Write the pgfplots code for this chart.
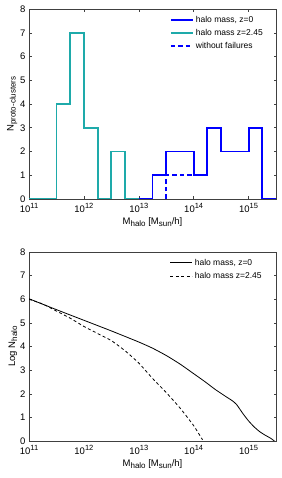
\documentclass[border=0pt]{standalone}
\usepackage{pgfplots}
\pgfplotsset{compat=1.18}
\usepackage{fontspec}
\setmainfont{Liberation Sans}
\definecolor{mblue}{RGB}{0,0,255}
\definecolor{mteal}{RGB}{30,170,170}
\newcommand\sub[1]{\raisebox{-0.4ex}{\fontsize{8}{9}\selectfont #1}}
\newcommand\sups[1]{\raisebox{0.75ex}{\fontsize{7.5}{8}\selectfont #1}}
\tikzset{
  histblue/.style={draw=mblue, line width=1.9pt},
  histteal/.style={draw=mteal, line width=1.9pt},
  histdash/.style={draw=mblue, line width=1.9pt, dash pattern=on 4.5pt off 3pt},
}
\begin{document}
\begin{tikzpicture}
\pgfplotsset{
  every axis/.append style={
    scale only axis, width=247pt, height=189pt,
    xmode=log, xmin=1e11, xmax=3.162e15,
    ymin=0, ymax=8, ytick={0,1,...,8},
    tick align=inside, major tick length=2.5pt,
    minor tick num=0,
    xminorticks=false,
    axis line style={line width=0.6pt, black!75},
    tick style={black!75, line width=0.5pt},
    tick label style={font=\fontsize{9.5}{11}\selectfont},
    label style={font=\fontsize{9.5}{11}\selectfont},
    /pgf/number format/assume math mode=true,
    xtick={1e11,1e12,1e13,1e14,1e15},
    xticklabels={10\sups{11},10\sups{12},10\sups{13},10\sups{14},10\sups{15}},
    xticklabel style={yshift=-1pt},
    legend cell align=left,
    legend style={draw=none, fill=none, font=\fontsize{8.5}{9}\selectfont,
      row sep=1.5pt, inner sep=0pt},
    legend image code/.code={\draw[#1] (0pt,0pt) -- (22pt,0pt);},
  }
}
% Bottom axis
\begin{axis}[name=lower, at={(0,0)}, anchor=south west,
  xlabel={M\sub{halo} [M\sub{sun}/h]},
  ylabel={Log N\sub{halo}},
  xlabel style={yshift=2pt},
  ylabel style={yshift=-4pt},
  major x tick style={draw=none},
  extra x ticks={2.8e11,2.8e12,2.8e13,2.8e14,2.8e15},
  extra x tick labels={},
  extra x tick style={major tick length=2.5pt, tick style={black!75}},
  legend style={at={(0.57,0.975)}, anchor=north west},
]
\addplot[draw=black, line width=0.8pt, smooth, tension=0.3] coordinates {
(1e11,6.02) (3.162e11,5.56) (1e12,5.11) (3.162e12,4.66) (1e13,4.19)
(1.778e13,3.93) (3.162e13,3.62) (5.623e13,3.26) (1e14,2.85) (1.585e14,2.52)
(2.512e14,2.17) (3.981e14,1.86) (5.012e14,1.71) (6.026e14,1.55) (7.943e14,1.15)
(1e15,0.85) (1.259e15,0.6) (1.585e15,0.4) (1.995e15,0.25) (2.512e15,0.12) (2.95e15,0.0)};
\addlegendentry{halo mass, z=0}
\addplot[draw=black, line width=0.8pt, dash pattern=on 3pt off 2.5pt, smooth, tension=0.3] coordinates {
(1e11,6.0) (1.778e11,5.8) (3.162e11,5.5) (5.623e11,5.2) (1e12,4.85)
(1.778e12,4.55) (3.162e12,4.25) (5.623e12,3.82) (1e13,3.3)
(1.778e13,2.65) (3.162e13,2.05) (5.623e13,1.4) (1e14,0.65) (1.45e14,0.05)};
\addlegendentry{halo mass z=2.45}
\end{axis}
% Top axis
\begin{axis}[name=upper, at={(0,242pt)}, anchor=south west, height=190pt,
  xlabel={M\sub{halo} [M\sub{sun}/h]},
  ylabel={N\sub{proto-clusters}},
  xlabel style={yshift=2pt},
  ylabel style={yshift=-4pt},
  legend style={at={(0.57,0.975)}, anchor=north west},
]
\addlegendimage{histblue}
\addlegendentry{halo mass, z=0}
\addlegendimage{histteal}
\addlegendentry{halo mass z=2.45}
\addlegendimage{histdash}
\addlegendentry{without failures}
\addplot[histteal, const plot, forget plot] coordinates {
(1e11,0) (3.162e11,4) (5.623e11,7) (1e12,3) (1.778e12,0) (3.162e12,2)
(5.623e12,0) (1e13,0)};
\addplot[histdash, forget plot] coordinates {
(3.162e13,0) (3.162e13,1) (1e14,1)};
\addplot[histblue, const plot, forget plot] coordinates {
(1e13,0) (1.778e13,1) (3.162e13,2) (1e14,1) (1.778e14,3) (3.162e14,2)
(1e15,3) (1.778e15,0) (3.162e15,0)};
\end{axis}
\pgfresetboundingbox
\path (-29pt,-37pt) rectangle (252pt,441pt);
\end{tikzpicture}
\end{document}
